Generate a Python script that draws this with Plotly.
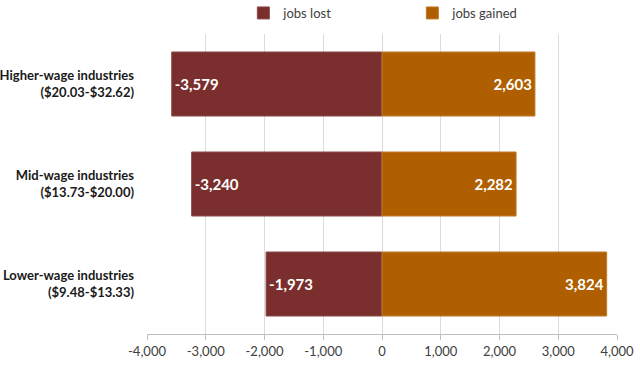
import plotly.graph_objects as go

categories = ["Lower-wage industries<br>($9.48-$13.33)",
              "Mid-wage industries<br>($13.73-$20.00)",
              "Higher-wage industries<br>($20.03-$32.62)"]
jobs_lost = [-1973, -3240, -3579]
jobs_gained = [3824, 2282, 2603]
tick_vals = [-4000, -3000, -2000, -1000, 0, 1000, 2000, 3000, 4000]
tick_text = ["-4,000", "-3,000", "-2,000", "-1,000", "0", "1,000", "2,000", "3,000", "4,000"]

FONT = "Lato, 'Open Sans', sans-serif"

fig = go.Figure()
fig.add_trace(go.Bar(
    y=categories, x=jobs_lost, orientation="h", name="jobs lost",
    marker=dict(color="#7A2E2D", line=dict(width=1, color="#8a4a48")),
    text=[f"{v:,}" for v in jobs_lost], textposition="inside",
    insidetextanchor="end",
    textfont=dict(color="white", size=15, family=FONT, weight="bold"),
))
fig.add_trace(go.Bar(
    y=categories, x=jobs_gained, orientation="h", name="jobs gained",
    marker=dict(color="#AF5F00", line=dict(width=1, color="#c07a2a")),
    text=[f"{v:,}" for v in jobs_gained], textposition="inside",
    insidetextanchor="end",
    textfont=dict(color="white", size=15, family=FONT, weight="bold"),
))

fig.update_layout(
    width=640, height=375,
    margin=dict(l=147, r=23, t=34, b=41, autoexpand=False),
    barmode="relative", bargap=0.36,
    plot_bgcolor="white", paper_bgcolor="white",
    font=dict(family=FONT, color="#404040", size=12),
    legend=dict(orientation="h", x=0.205, xanchor="left", y=1.12, yanchor="top",
                entrywidth=124, font=dict(size=13, color="#404040"),
                traceorder="normal", itemwidth=30),
    xaxis=dict(range=[-4000, 4000], tickvals=tick_vals, ticktext=tick_text,
               automargin=False,
               showgrid=True, gridcolor="#dcdcdc", gridwidth=1,
               zeroline=True, zerolinecolor="#d8d8d8", zerolinewidth=1,
               showline=True, linecolor="#bfbfbf", linewidth=1,
               ticks="outside", tickcolor="#bfbfbf", ticklen=5,
               tickfont=dict(size=13, color="#404040")),
    yaxis=dict(showgrid=False, ticks="", showline=False, automargin=False,
               tickfont=dict(size=13, color="#1a1a1a", weight="bold"),
               ticklabelstandoff=12),
)

fig.write_html("out.html", config={"displayModeBar": False},
               post_script="document.body.style.margin='0';document.body.style.overflow='hidden';")
